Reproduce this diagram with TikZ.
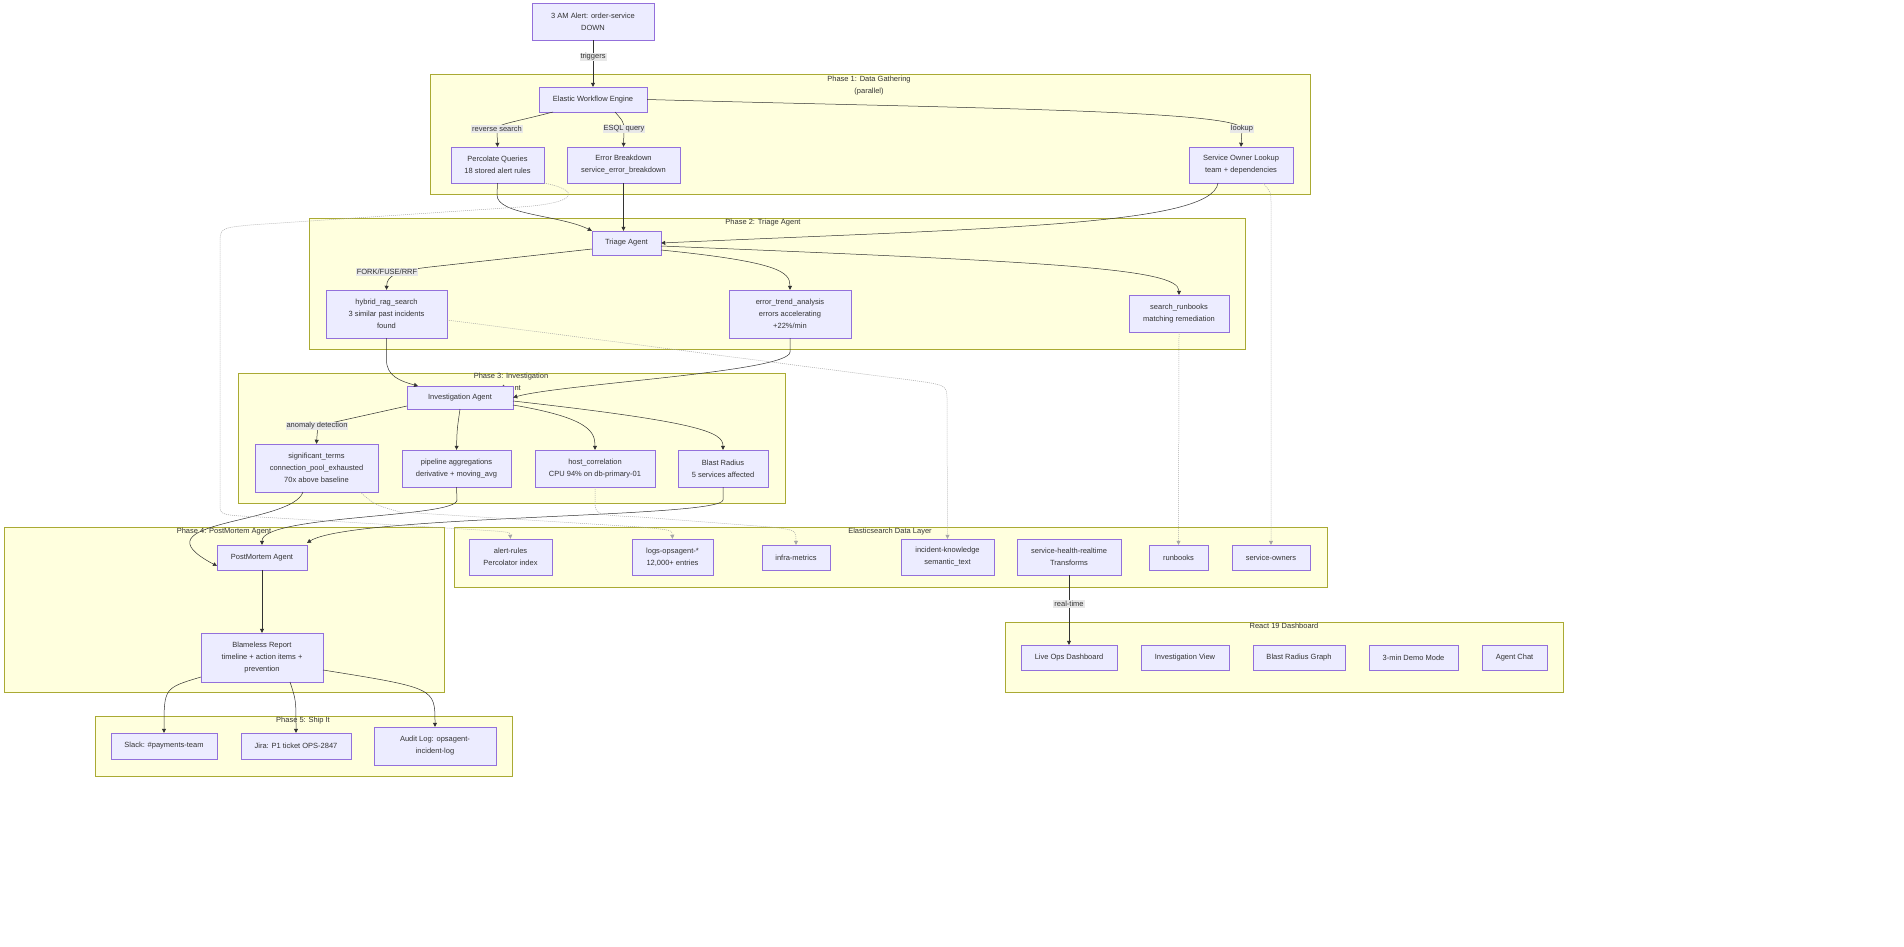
\documentclass[tikz,border=0pt]{standalone}
\usepackage{fontspec}
\setmainfont{Liberation Sans}
\usetikzlibrary{arrows.meta}
\definecolor{nodefill}{HTML}{ECECFF}
\definecolor{nodeline}{HTML}{9370DB}
\definecolor{clfill}{HTML}{FFFFDE}
\definecolor{clline}{HTML}{AAAA33}
\definecolor{edgec}{HTML}{333333}
\definecolor{labbg}{HTML}{E8E8E8}
\begin{document}
\begin{tikzpicture}[x=1pt,y=-1pt,
  font=\fontsize{7.5}{12}\selectfont, text=edgec,
  box/.style 2 args={draw=nodeline, fill=nodefill, align=center, inner sep=0pt, minimum width=#1pt, minimum height=#2pt},
  cl/.style={draw=clline, fill=clfill},
  ttl/.style={align=center, inner sep=0pt, anchor=north},
  lab/.style={fill=labbg, inner sep=1pt},
  ed/.style={draw=edgec, line width=0.5pt, -{Triangle[length=4pt,width=4pt]}},
  dt/.style={draw=gray!70, line width=0.5pt, dash pattern=on 1pt off 1pt, -{Triangle[length=4pt,width=4pt]}}]
\path[use as bounding box, fill=white] (0,0) rectangle (1904,947);
\draw[cl] (430,74) rectangle (1310,194);
\draw[cl] (309,218) rectangle (1245,349);
\draw[cl] (238,373) rectangle (785,503);
\draw[cl] (4,527) rectangle (444,692);
\draw[cl] (95,716) rectangle (512,776);
\draw[cl] (454,527) rectangle (1327,587);
\draw[cl] (1005,622) rectangle (1563,692);
\node[ttl] (t1) at (869,76) {Phase 1: Data Gathering\\(parallel)};
\node[ttl] (t2) at (763,219) {Phase 2: Triage Agent};
\node[ttl] (t3) at (511,373) {Phase 3: Investigation\\Agent};
\node[ttl] (t4) at (224,528) {Phase 4: PostMortem Agent};
\node[ttl] (t5) at (303,717) {Phase 5: Ship It};
\node[ttl] (t6) at (890,528) {Elasticsearch Data Layer};
\node[ttl] (t7) at (1284,623) {React 19 Dashboard};

\node[box={122}{37}] (alert) at (593,21.5) {3 AM Alert: order-service\\DOWN};
\node[box={108}{25}] (engine) at (593,99.5) {Elastic Workflow Engine};
\node[box={93}{36}] (perc) at (497.5,165) {Percolate Queries\\18 stored alert rules};
\node[box={113}{36}] (errb) at (623.5,165) {Error Breakdown\\service\_error\_breakdown};
\node[box={104}{36}] (sol) at (1241,165) {Service Owner Lookup\\team + dependencies};
\node[box={69}{24}] (triage) at (626.5,243) {Triage Agent};
\node[box={121}{48}] (hyb) at (386.5,314) {hybrid\_rag\_search\\3 similar past incidents\\found};
\node[box={122}{48}] (etr) at (790,314) {error\_trend\_analysis\\errors accelerating\\+22\%/min};
\node[box={100}{37}] (srb) at (1179,313.5) {search\_runbooks\\matching remediation};
\node[box={106}{23}] (inv) at (460,397.5) {Investigation Agent};
\node[box={123}{48}] (sig) at (316.5,468) {significant\_terms\\connection\_pool\_exhausted\\70x above baseline};
\node[box={109}{37}] (pip) at (456.5,468.5) {pipeline aggregations\\derivative + moving\_avg};
\node[box={120}{37}] (host) at (595,468.5) {host\_correlation\\CPU 94\% on db-primary-01};
\node[box={90}{37}] (blast) at (723,468.5) {Blast Radius\\5 services affected};
\node[box={90}{25}] (pm) at (262,557.5) {PostMortem Agent};
\node[box={122}{49}] (blame) at (262,657.5) {Blameless Report\\timeline + action items +\\prevention};
\node[box={106}{26}] (slack) at (164,746) {Slack: \#payments-team};
\node[box={110}{26}] (jira) at (296,746) {Jira: P1 ticket OPS-2847};
\node[box={122}{38}] (audit) at (435,746) {Audit Log: opsagent-\\incident-log};
\node[box={83}{36}] (ar) at (510.5,557) {alert-rules\\Percolator index};
\node[box={81}{36}] (logs) at (672.5,557) {logs-opsagent-*\\12,000+ entries};
\node[box={68}{25}] (infra) at (796,557.5) {infra-metrics};
\node[box={93}{36}] (ik) at (947.5,557) {incident-knowledge\\semantic\_text};
\node[box={104}{36}] (shr) at (1069,557) {service-health-realtime\\Transforms};
\node[box={59}{25}] (rb) at (1178.5,557.5) {runbooks};
\node[box={78}{25}] (so) at (1271,557.5) {service-owners};
\node[box={96}{25}] (live) at (1069,657.5) {Live Ops Dashboard};
\node[box={88}{25}] (iview) at (1185,657.5) {Investigation View};
\node[box={92}{25}] (brg) at (1299,657.5) {Blast Radius Graph};
\node[box={89}{25}] (demo) at (1413.5,657.5) {3-min Demo Mode};
\node[box={65}{25}] (chat) at (1514.5,657.5) {Agent Chat};

\coordinate (ctrig) at (593,57);
\coordinate (crev) at (497,129);
\coordinate (cesql) at (624,129);
\coordinate (clook) at (1242,129);
\coordinate (cfork) at (387,272);
\coordinate (canom) at (317,426);
\coordinate (crt) at (1069,604);

\draw[ed] (alert) -- (engine);
\draw[ed] (553,112) .. controls (515,122) and (497,124) .. (crev) -- (perc.north);
\draw[ed] (615,112) .. controls (622,120) and (624,122) .. (cesql) -- (errb.north);
\draw[ed] (engine.east) .. controls (950,108) and (1242,110) .. (clook) -- (sol.north);
\draw[ed] (perc.south) -- (497,195) .. controls (497,215) and (560,215) .. (triage.north west);
\draw[ed] (errb.south) -- (triage.north -| errb.south);
\draw[ed] (1218,183) .. controls (1212,225) and (1000,228) .. (triage.east);
\draw[ed] (592,249) -- (430,267) .. controls (395,271) and (387,276) .. (hyb.north);
\draw[ed] (661,250) .. controls (780,262) and (790,272) .. (etr.north);
\draw[ed] (661,246) .. controls (1050,262) and (1179,268) .. (srb.north);
\draw[ed] (hyb.south) -- (386.5,360) .. controls (386.5,376) and (400,381) .. (418,386);
\draw[ed] (etr.south) -- (790,352) .. controls (790,372) and (560,384) .. (inv.east);
\draw[ed] (407,406) -- (canom) .. controls (318,430) and (317,434) .. (sig.north);
\draw[ed] (460,409) .. controls (457,430) .. (pip.north);
\draw[ed] (513,405) .. controls (590,418) and (595,432) .. (host.north);
\draw[ed] (513,401) .. controls (700,422) and (723,432) .. (blast.north);
\draw[ed] (303,492) .. controls (292,525) and (130,520) .. (217,566);
\draw[ed] (pip.south) -- (457,500) .. controls (457,518) and (262,515) .. (pm.north);
\draw[ed] (blast.south) -- (723,500) .. controls (723,518) and (350,515) .. (307,543);
\draw[ed] (pm) -- (blame);
\draw[ed] (201,677) .. controls (164,688) .. (slack.north);
\draw[ed] (290,682) .. controls (296,700) .. (jira.north);
\draw[ed] (323,670) .. controls (435,688) .. (audit.north);
\draw[ed] (shr.south) -- (crt) -- (live.north);
\draw[dt] (544,183) .. controls (580,190) and (580,203) .. (520,207) -- (250,225) .. controls (220,228) .. (220,245) -- (220,505) .. controls (220,515) .. (260,517) -- (480,530) .. controls (510,532) .. (ar.north);
\draw[dt] (447,320) -- (910,380) .. controls (947,385) .. (947,400) -- (ik.north);
\draw[dt] (360,492) .. controls (375,505) .. (400,512) -- (640,527) .. controls (672,530) .. (logs.north);
\draw[dt] (host.south) -- (595,500) .. controls (595,515) .. (640,517) -- (770,527) .. controls (796,530) .. (infra.north);
\draw[dt] (srb.south) -- (rb.north);
\draw[dt] (1263,183) .. controls (1271,192) .. (1271,205) -- (so.north);

\node[lab] (ltrig) at (ctrig) {triggers};
\node[lab] (lrev) at (crev) {reverse search};
\node[lab] (lesql) at (cesql) {ESQL query};
\node[lab] (llook) at (clook) {lookup};
\node[lab] (lfork) at (cfork) {FORK/FUSE/RRF};
\node[lab] (lanom) at (canom) {anomaly detection};
\node[lab] (lrt) at (crt) {real-time};
\end{tikzpicture}
\end{document}
